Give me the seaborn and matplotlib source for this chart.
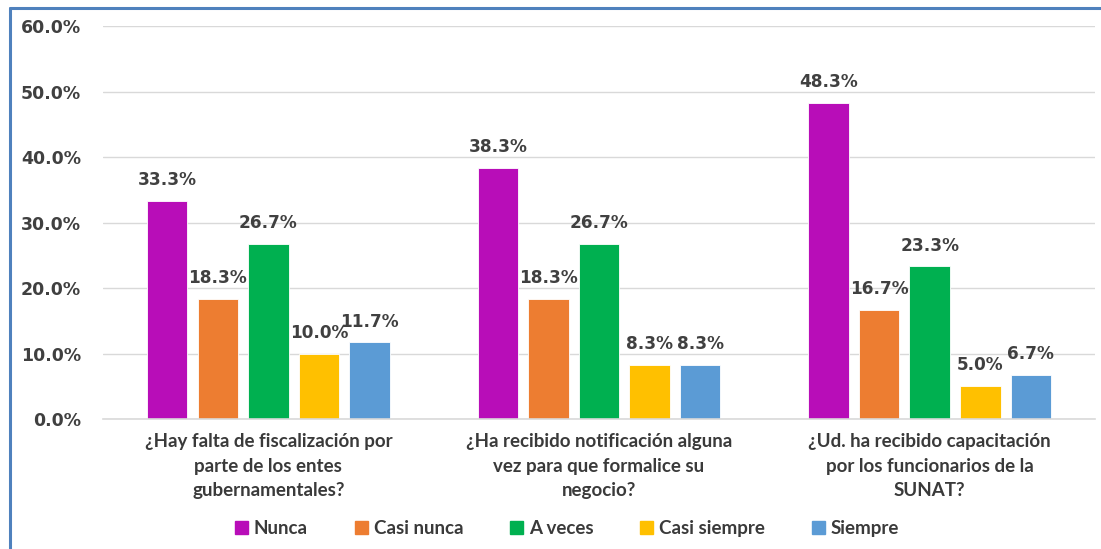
import matplotlib.pyplot as plt
import matplotlib.lines as mlines
import seaborn as sns
import pandas as pd

# preguntas (eje x) y categorias de respuesta
preguntas = [
    "¿Hay falta de fiscalización por\nparte de los entes\ngubernamentales?",
    "¿Ha recibido notificación alguna\nvez para que formalice su\nnegocio?",
    "¿Ud. ha recibido capacitación\npor los funcionarios de la\nSUNAT?",
]
respuestas = ["Nunca", "Casi nunca", "A veces", "Casi siempre", "Siempre"]
colores = ["#B80DB8", "#ED7D31", "#00B050", "#FFC000", "#5B9BD5"]

nunca = [33.3, 38.3, 48.3]
casi_nunca = [18.3, 18.3, 16.7]
a_veces = [26.7, 26.7, 23.3]
casi_siempre = [10.0, 8.3, 5.0]
siempre = [11.7, 8.3, 6.7]

series = [nunca, casi_nunca, a_veces, casi_siempre, siempre]
rows = []
for resp, vals in zip(respuestas, series):
    for preg, v in zip(preguntas, vals):
        rows.append({"pregunta": preg, "respuesta": resp, "valor": v})
df = pd.DataFrame(rows)

sns.set_theme(style="white")
plt.rcParams['font.family'] = ['DejaVu Sans']

fig = plt.figure(figsize=(11.01, 5.49), dpi=100)
ax = fig.add_axes([0.0936, 0.2368, 0.9010, 0.7158])

sns.barplot(data=df, x="pregunta", y="valor", hue="respuesta",
            hue_order=respuestas, palette=colores, saturation=1,
            width=0.765, gap=0.2, edgecolor="white", linewidth=0.6,
            ax=ax, legend=False)

# etiquetas de datos
for cont in ax.containers:
    for bar in cont:
        h = bar.get_height()
        ax.annotate(f"{h:.1f}%", (bar.get_x() + bar.get_width() / 2, h),
                    xytext=(0, 8.5), textcoords="offset points",
                    ha="center", va="bottom", fontsize=12.2,
                    fontweight="bold", color="#404040")

ax.set_ylim(0, 60)
ax.set_xlim(-0.5, 2.5)
ax.set_yticks(range(0, 61, 10))
ax.set_yticklabels([f"{t:.1f}%" for t in range(0, 61, 10)],
                   fontsize=12.5, fontweight="bold", color="#404040")
ax.tick_params(axis="y", length=0, pad=16)
ax.tick_params(axis="x", length=0, pad=10)
for lbl in ax.get_xticklabels():
    lbl.set_fontfamily("Lato")
    lbl.set_fontsize(13.5)
    lbl.set_fontweight("bold")
    lbl.set_color("#3A3A3A")
    lbl.set_linespacing(1.55)
ax.set_xlabel("")
ax.set_ylabel("")
ax.grid(axis="y", color="#D9D9D9", linewidth=1)
ax.set_axisbelow(True)
for s in ["left", "right", "top"]:
    ax.spines[s].set_visible(False)
ax.spines["bottom"].set_color("#D9D9D9")
ax.spines["bottom"].set_linewidth(1.2)

# leyenda
handles = [plt.Rectangle((0, 0), 1, 1, color=c) for c in colores]
fig.legend(handles, respuestas, loc="center", bbox_to_anchor=(0.515, 0.038),
           ncol=5, frameon=False, handlelength=0.7, handleheight=0.7,
           handletextpad=0.3, columnspacing=2.5,
           prop={"family": "Lato", "size": 13.5, "weight": "bold"},
           labelcolor="#3A3A3A")

# borde azul del grafico
fig.add_artist(mlines.Line2D([10 / 1101, 10 / 1101], [0, 1 - 8 / 549],
                             color="#4F81BD", linewidth=2.2))
fig.add_artist(mlines.Line2D([10 / 1101, 1], [1 - 8 / 549, 1 - 8 / 549],
                             color="#4F81BD", linewidth=2.2))

fig.savefig("out.png", dpi=100)
